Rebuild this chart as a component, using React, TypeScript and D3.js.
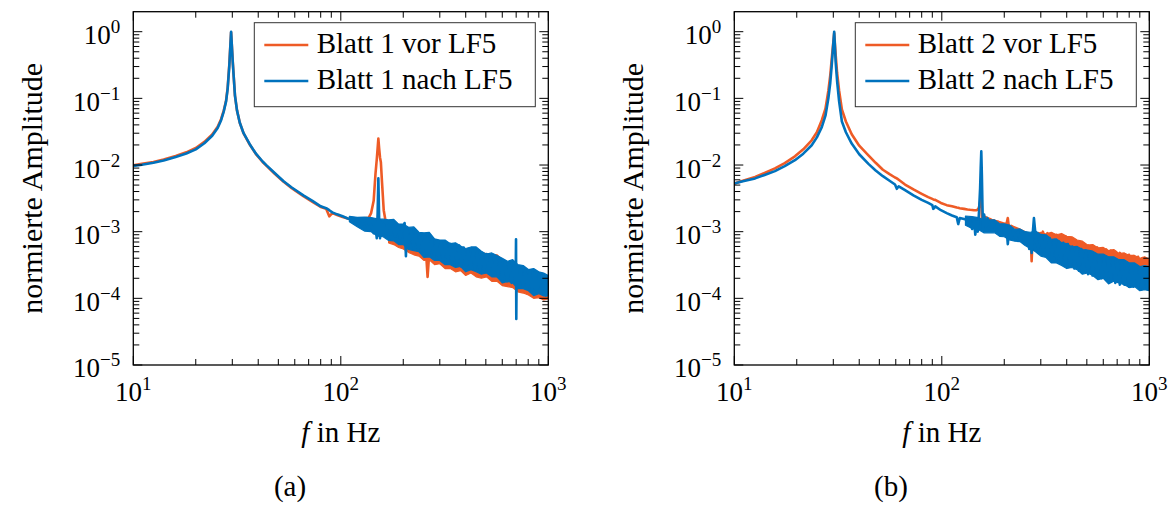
import React from 'react';
import * as d3 from 'd3';

// ---------- tick labels ----------
const X_TICK_EXP = ['1', '2', '3'];
const Y_TICK_EXP = ['0', '\u22121', '\u22122', '\u22123', '\u22124', '\u22125'];
const X_MAJOR = [10, 100, 1000];
const Y_MAJOR = [1, 0.1, 0.01, 0.001, 0.0001, 0.00001];

const LEGEND_A = ['Blatt 1 vor LF5', 'Blatt 1 nach LF5'];
const LEGEND_B = ['Blatt 2 vor LF5', 'Blatt 2 nach LF5'];
const SUB_LABELS = ['(a)', '(b)'];

// ---------- panel (a) : sampled spectra ----------
const FA = [
  10, 11, 12.5, 14, 16, 18, 20, 22, 24, 25.5,
  26.5, 27.3, 28, 28.5, 29, 29.6, 30.2, 30.9, 31.6, 32.6,
  34, 36.4, 39, 42, 44, 48, 53, 58, 66, 73,
  80, 85, 88, 91, 96, 102, 108, 115, 121, 127,
  132, 136, 140, 144, 147, 149, 150.5, 151.7, 153, 154.5,
  156, 158, 161, 164, 167, 170, 174, 179, 183, 188,
  193, 198, 203, 206, 208, 213, 219, 224, 230, 236,
  242, 248, 254, 258, 262, 266, 274, 281, 289, 296,
  304, 311, 319, 328, 336, 345, 354, 363, 372, 381,
  391, 401, 411, 422, 433, 444, 455, 467, 479, 491,
  504, 517, 530, 543, 557, 572, 586, 601, 617, 633,
  649, 665, 682, 696, 699, 701, 704, 718, 736, 755,
  775, 794, 815, 836, 857, 879, 902, 925, 949, 973,
  1000,
];
const A_VOR = [
  0.0099, 0.0104, 0.0111, 0.0121, 0.0137, 0.0155, 0.018, 0.0222, 0.0288, 0.0375,
  0.049, 0.066, 0.093, 0.145, 0.31, 0.98, 0.33, 0.11, 0.066, 0.043,
  0.0298, 0.0203, 0.0146, 0.0111, 0.0096, 0.0074, 0.0056, 0.0045, 0.0034, 0.0028,
  0.00235, 0.0022, 0.0017, 0.0019, 0.00178, 0.00166, 0.00158, 0.00148, 0.0015, 0.0015,
  0.0016, 0.0016, 0.0019, 0.0029, 0.0075, 0.012, 0.018, 0.025, 0.018, 0.013,
  0.011, 0.0055, 0.0021, 0.0015, 0.0011, 0.0012, 0.00085, 0.00115, 0.0008, 0.0011,
  0.00075, 0.00105, 0.0011, 0.0007, 0.001, 0.00062, 0.00095, 0.00055, 0.00085, 0.0005,
  0.0008, 0.00046, 0.00075, 0.00045, 0.00021, 0.00042, 0.0007, 0.00038, 0.00066, 0.00036,
  0.00064, 0.00033, 0.0006, 0.00031, 0.00058, 0.0003, 0.00056, 0.00028, 0.00055, 0.00027,
  0.00052, 0.00026, 0.0005, 0.00025, 0.00048, 0.00024, 0.00046, 0.00023, 0.00045, 0.00022,
  0.00043, 0.00021, 0.00042, 0.0002, 0.0004, 0.00019, 0.00038, 0.00018, 0.00036, 0.00017,
  0.00034, 0.00016, 0.00032, 0.00016, 0.0003, 0.00016, 0.00029, 0.00015, 0.00028, 0.00014,
  0.00027, 0.00013, 0.00026, 0.000125, 0.00025, 0.00012, 0.00024, 0.000115, 0.00023, 0.00011,
  0.00018,
];
const A_NACH = [
  0.0097, 0.0101, 0.0108, 0.0117, 0.0132, 0.0149, 0.0172, 0.0212, 0.0275, 0.036,
  0.047, 0.064, 0.09, 0.14, 0.3, 1.0, 0.32, 0.11, 0.066, 0.043,
  0.03, 0.0205, 0.0148, 0.0113, 0.0098, 0.0076, 0.0057, 0.0046, 0.0035, 0.0029,
  0.0024, 0.00225, 0.0021, 0.00195, 0.00182, 0.0017, 0.00158, 0.0015, 0.00142, 0.0013,
  0.00135, 0.0011, 0.00128, 0.00095, 0.00125, 0.0008, 0.0019, 0.0063, 0.0016, 0.0008,
  0.0014, 0.0009, 0.0013, 0.00095, 0.0012, 0.00125, 0.0009, 0.00122, 0.00085, 0.00118,
  0.0008, 0.0011, 0.00135, 0.00043, 0.0011, 0.00068, 0.00102, 0.0006, 0.00092, 0.00056,
  0.00088, 0.0005, 0.00085, 0.00048, 0.00082, 0.00046, 0.00078, 0.00042, 0.00074, 0.0004,
  0.00072, 0.00037, 0.0007, 0.00035, 0.00066, 0.00034, 0.00063, 0.00032, 0.00062, 0.0003,
  0.00058, 0.00029, 0.00055, 0.00028, 0.00052, 0.00027, 0.0005, 0.00026, 0.00048, 0.00025,
  0.00046, 0.00024, 0.00044, 0.00022, 0.00041, 0.00021, 0.00039, 0.0002, 0.00036, 0.00018,
  0.00034, 0.00017, 0.00031, 0.00017, 0.00077, 0.000049, 0.00028, 0.00016, 0.00029, 0.00015,
  0.00027, 0.00014, 0.00026, 0.00013, 0.00024, 0.00012, 0.00023, 0.00012, 0.00022, 0.00011,
  0.00017,
];
// dense noise band envelopes (panel a)
const A_VOR_BAND_F = [170, 180, 190, 200, 212, 225, 238, 252, 267, 283, 300, 318, 337, 357, 378, 400, 424, 449, 476, 504, 534, 566, 600, 636, 674, 714, 757, 802, 850, 900, 950, 1000];
const A_VOR_BAND_HI = [0.0014, 0.00145, 0.00122, 0.00122, 0.0011, 0.0011, 0.00092, 0.0009, 0.00092, 0.00074, 0.0007, 0.0007, 0.00062, 0.00064, 0.00058, 0.00053, 0.00056, 0.00056, 0.00048, 0.00047, 0.00045, 0.00045, 0.00038, 0.00034, 0.00036, 0.0003, 0.0003, 0.00026, 0.00027, 0.00024, 0.00023, 0.00021];
const A_VOR_BAND_LO = [0.00068, 0.00064, 0.00058, 0.00055, 0.00049, 0.00045, 0.00043, 0.00037, 0.00038, 0.00032, 0.00033, 0.00028, 0.00028, 0.00025, 0.00026, 0.00022, 0.00024, 0.00021, 0.0002, 0.00021, 0.00018, 0.00018, 0.000155, 0.00015, 0.000145, 0.000125, 0.00012, 0.000112, 0.0001, 0.000102, 0.000095, 0.000098];
const A_NACH_BAND_F = [110, 120, 130, 140, 150, 160, 170, 180, 190, 200, 212, 225, 238, 252, 267, 283, 300, 318, 337, 357, 378, 400, 424, 449, 476, 504, 534, 566, 600, 636, 674, 714, 757, 802, 850, 900, 950, 1000];
const A_NACH_BAND_HI = [0.0017, 0.00164, 0.00165, 0.00163, 0.00156, 0.00154, 0.00151, 0.00153, 0.0013, 0.0013, 0.00116, 0.00118, 0.00098, 0.00096, 0.00098, 0.00078, 0.00075, 0.00075, 0.00066, 0.00068, 0.00061, 0.00056, 0.00059, 0.00059, 0.00051, 0.00046, 0.00048, 0.00044, 0.0004, 0.00036, 0.00038, 0.00032, 0.00031, 0.00027, 0.00028, 0.00025, 0.00024, 0.00022];
const A_NACH_BAND_LO = [0.00141, 0.00119, 0.00102, 0.001, 0.00086, 0.00084, 0.00074, 0.00073, 0.00064, 0.00064, 0.00054, 0.00052, 0.0005, 0.00041, 0.00042, 0.00037, 0.00037, 0.00032, 0.00032, 0.00029, 0.0003, 0.00025, 0.00027, 0.00025, 0.00023, 0.00024, 0.00021, 0.00021, 0.00017, 0.00018, 0.00017, 0.00014, 0.00014, 0.00013, 0.00011, 0.000117, 0.000109, 0.000109];

// ---------- panel (b) : sampled spectra ----------
const FB = [
  10, 11, 12.6, 14, 15.7, 17.5, 19.6, 21.5, 23.6, 25,
  26.4, 27.5, 28.4, 29, 29.5, 30.3, 30.8, 31.3, 32, 33,
  34.5, 36.8, 40, 44.3, 48, 52, 56, 59.5, 60.7, 62,
  66.5, 73, 80, 86, 90, 91, 93, 99, 105.6, 112,
  118, 120, 122, 128, 133, 137, 140, 143, 145, 147,
  149, 151, 153, 154, 155, 156, 157, 158, 160, 163,
  166, 170, 174, 177, 181, 186, 190, 195, 200, 205,
  208, 211, 216, 221, 227, 233, 239, 245, 251, 258,
  264, 268, 271, 274, 278, 285, 292, 300, 307, 315,
  323, 331, 340, 348, 357, 366, 375, 385, 395, 405,
  415, 425, 436, 447, 458, 470, 482, 494, 507, 520,
  533, 547, 561, 575, 590, 605, 620, 636, 652, 669,
  686, 703, 721, 740, 759, 778, 798, 818, 839, 861,
  883, 905, 928, 952, 976, 1000,
];
const B_VOR = [
  0.0053, 0.0058, 0.0066, 0.0076, 0.0089, 0.0107, 0.0135, 0.0172, 0.0235, 0.031,
  0.047, 0.07, 0.13, 0.22, 0.4, 0.95, 0.45, 0.24, 0.13, 0.068,
  0.045, 0.029, 0.0195, 0.014, 0.0108, 0.0085, 0.0073, 0.0065, 0.0063, 0.006,
  0.0051, 0.0043, 0.0037, 0.0033, 0.0031, 0.00305, 0.003, 0.0027, 0.0025, 0.0024,
  0.0023, 0.00228, 0.00225, 0.0022, 0.00215, 0.00213, 0.00212, 0.0021, 0.0021, 0.0021,
  0.00215, 0.0023, 0.0028, 0.0035, 0.0028, 0.0016, 0.0012, 0.0014, 0.0016, 0.00165,
  0.0016, 0.00155, 0.0015, 0.00148, 0.00145, 0.00142, 0.00138, 0.00135, 0.00132, 0.0013,
  0.0016, 0.0011, 0.00122, 0.00118, 0.00114, 0.0011, 0.00106, 0.00102, 0.00098, 0.00094,
  0.00092, 0.0009, 0.00036, 0.00086, 0.00085, 0.00083, 0.00095, 0.00075, 0.001, 0.00072,
  0.00095, 0.0007, 0.00092, 0.00068, 0.0009, 0.00066, 0.00088, 0.00064, 0.00085, 0.00062,
  0.0008, 0.0006, 0.00075, 0.00056, 0.0007, 0.00052, 0.00066, 0.0005, 0.00062, 0.00047,
  0.0006, 0.00045, 0.00058, 0.00043, 0.00056, 0.00042, 0.00054, 0.0004, 0.00052, 0.00038,
  0.0005, 0.00037, 0.00048, 0.00036, 0.00046, 0.00035, 0.00045, 0.00034, 0.00043, 0.00033,
  0.00042, 0.00032, 0.0004, 0.00031, 0.00039, 0.00032,
];
const B_NACH = [
  0.0053, 0.0057, 0.0063, 0.0071, 0.0081, 0.0096, 0.0118, 0.0148, 0.0198, 0.026,
  0.037, 0.055, 0.1, 0.17, 0.32, 1.0, 0.35, 0.18, 0.09, 0.045,
  0.031, 0.021, 0.0145, 0.0104, 0.0083, 0.0068, 0.0058, 0.0051, 0.0044, 0.0048,
  0.0042, 0.0035, 0.003, 0.0027, 0.0025, 0.0022, 0.0024, 0.0021, 0.0019, 0.00175,
  0.00165, 0.0013, 0.0016, 0.00155, 0.0015, 0.00145, 0.0011, 0.0015, 0.0009, 0.0014,
  0.001, 0.0019, 0.0045, 0.009, 0.016, 0.007, 0.0025, 0.0011, 0.0018, 0.0012,
  0.0016, 0.0013, 0.0011, 0.00135, 0.0011, 0.0013, 0.00105, 0.00125, 0.00095, 0.0012,
  0.00065, 0.00105, 0.0008, 0.00105, 0.00078, 0.001, 0.00075, 0.00098, 0.0007, 0.00095,
  0.00055, 0.0009, 0.00048, 0.0009, 0.0016, 0.0007, 0.00055, 0.00088, 0.0005, 0.00085,
  0.00046, 0.0008, 0.00043, 0.00075, 0.0004, 0.00072, 0.00036, 0.00068, 0.00033, 0.00065,
  0.0003, 0.0006, 0.00028, 0.00058, 0.00026, 0.00055, 0.00025, 0.00052, 0.00023, 0.0005,
  0.00022, 0.00046, 0.00021, 0.00044, 0.0002, 0.00042, 0.00019, 0.0004, 0.00018, 0.00038,
  0.00017, 0.00036, 0.00016, 0.00034, 0.00016, 0.00032, 0.00015, 0.00031, 0.00015, 0.0003,
  0.00015, 0.00029, 0.00014, 0.00028, 0.00014, 0.00022,
];
// dense noise band envelopes (panel b)
const B_VOR_BAND_F = [283, 300, 318, 337, 357, 378, 400, 424, 449, 476, 504, 534, 566, 600, 636, 674, 714, 757, 802, 850, 900, 950, 1000];
const B_VOR_BAND_HI = [0.00092, 0.00098, 0.00092, 0.00098, 0.0009, 0.00094, 0.00085, 0.00084, 0.00075, 0.00072, 0.00063, 0.00064, 0.00057, 0.00058, 0.00052, 0.00054, 0.00047, 0.00048, 0.00044, 0.00044, 0.0004, 0.00042, 0.00038];
const B_VOR_BAND_LO = [0.0008, 0.00072, 0.00072, 0.00068, 0.00066, 0.00064, 0.00064, 0.00058, 0.00055, 0.0005, 0.00047, 0.00044, 0.00042, 0.0004, 0.00039, 0.00037, 0.00035, 0.00034, 0.00033, 0.00031, 0.0003, 0.00029, 0.00028];
const B_NACH_BAND_F = [130, 140, 150, 160, 170, 180, 190, 200, 212, 225, 238, 252, 267, 283, 300, 318, 337, 357, 378, 400, 424, 449, 476, 504, 534, 566, 600, 636, 674, 714, 757, 802, 850, 900, 950, 1000];
const B_NACH_BAND_HI = [0.00172, 0.00168, 0.00163, 0.0015, 0.0015, 0.0015, 0.00132, 0.00131, 0.00126, 0.00108, 0.0011, 0.001, 0.00098, 0.00102, 0.00091, 0.0009, 0.00077, 0.00078, 0.00068, 0.00066, 0.00059, 0.0006, 0.00054, 0.00053, 0.00051, 0.00046, 0.00046, 0.00042, 0.00042, 0.00038, 0.00038, 0.00034, 0.00034, 0.0003, 0.00031, 0.0003];
const B_NACH_BAND_LO = [0.00125, 0.00112, 0.00108, 0.00096, 0.00096, 0.00096, 0.00085, 0.00084, 0.00075, 0.00072, 0.00071, 0.00062, 0.00056, 0.0005, 0.00043, 0.00041, 0.00034, 0.00034, 0.00031, 0.00028, 0.00029, 0.00027, 0.00023, 0.00024, 0.00022, 0.00019, 0.0002, 0.000165, 0.00018, 0.00017, 0.00016, 0.000145, 0.00015, 0.00013, 0.000135, 0.00013];

// ---------- styling ----------
const FONT = 'Liberation Serif, DejaVu Serif, serif';
const ORANGE = '#EE5B26';
const BLUE = '#0072BD';
const PLOT_LEFT = 133.3;
const PLOT_TOP = 11.7;
const W = 415;
const H = 353.3;
const PANEL_DX = [0, 601];

type Band = { f: number[]; lo: number[]; hi: number[] };
type PanelProps = {
  dx: number;
  freqs: number[];
  vor: number[];
  nach: number[];
  vorBand: Band;
  nachBand: Band;
  legend: string[];
  sub: string;
  id: string;
};

function Panel({ dx, freqs, vor, nach, vorBand, nachBand, legend, sub, id }: PanelProps) {
  const x = d3.scaleLog().domain([10, 1000]).range([0, W]);
  const y = d3.scaleLog().domain([1e-5, Math.pow(10, 0.3)]).range([H, 0]);
  const line = d3
    .line<number>()
    .x((_, i) => x(freqs[i]))
    .y((v) => y(v));
  const bandPath = (b: Band) =>
    d3
      .area<number>()
      .x((f) => x(f))
      .y0((_, i) => y(b.lo[i]))
      .y1((_, i) => y(b.hi[i]))(b.f) || '';

  const xTicks = x.ticks();
  const yTicks = y.ticks().filter((t) => t <= Math.pow(10, 0.3) - 1e-9);
  const isPow10 = (v: number) => Math.abs(Math.log10(v) - Math.round(Math.log10(v))) < 1e-6;
  const MAJ = 9;
  const MIN = 6;
  const tf = { fontFamily: FONT };

  const lx = 121;
  const ly = 11;

  return (
    <g transform={`translate(${PLOT_LEFT + dx},${PLOT_TOP})`}>
      <defs>
        <clipPath id={id}>
          <rect x={0} y={0} width={W} height={H} />
        </clipPath>
      </defs>
      <g clipPath={`url(#${id})`}>
        <path d={bandPath(vorBand)} fill={ORANGE} stroke={ORANGE} strokeWidth={1.2} strokeLinejoin="round" />
        <path d={line(vor) || ''} fill="none" stroke={ORANGE} strokeWidth={2.6} strokeLinejoin="round" />
        <path d={bandPath(nachBand)} fill={BLUE} stroke={BLUE} strokeWidth={1.2} strokeLinejoin="round" />
        <path d={line(nach) || ''} fill="none" stroke={BLUE} strokeWidth={2.6} strokeLinejoin="round" />
      </g>
      {xTicks.map((t, i) => {
        const len = isPow10(t) ? MAJ : MIN;
        const px = x(t);
        return (
          <g key={'xt' + i}>
            <line x1={px} x2={px} y1={H} y2={H - len} stroke="#000" strokeWidth={1} />
            <line x1={px} x2={px} y1={0} y2={len} stroke="#000" strokeWidth={1} />
          </g>
        );
      })}
      {yTicks.map((t, i) => {
        const len = isPow10(t) ? MAJ : MIN;
        const py = y(t);
        return (
          <g key={'yt' + i}>
            <line x1={0} x2={len} y1={py} y2={py} stroke="#000" strokeWidth={1} />
            <line x1={W} x2={W - len} y1={py} y2={py} stroke="#000" strokeWidth={1} />
          </g>
        );
      })}
      <rect x={0} y={0} width={W} height={H} fill="none" stroke="#000" strokeWidth={1.3} />
      {X_MAJOR.map((t, i) => (
        <text key={'xl' + i} x={x(t)} y={H + 36} textAnchor="middle" style={tf} fontSize={27}>
          10<tspan dy={-11} fontSize={19}>{X_TICK_EXP[i]}</tspan>
        </text>
      ))}
      {Y_MAJOR.map((t, i) => (
        <text key={'yl' + i} x={-13} y={y(t) + 12.5} textAnchor="end" style={tf} fontSize={27}>
          10<tspan dy={-11} fontSize={19}>{Y_TICK_EXP[i]}</tspan>
        </text>
      ))}
      <text x={W / 2} y={H + 77} textAnchor="middle" style={tf} fontSize={29}>
        <tspan fontStyle="italic">f</tspan> in Hz
      </text>
      <text
        transform={`translate(${42 - PLOT_LEFT},${H / 2}) rotate(-90)`}
        textAnchor="middle"
        style={tf}
        fontSize={30}
      >
        normierte Amplitude
      </text>
      <rect x={lx} y={ly} width={281} height={84} fill="#fff" stroke="#333" strokeWidth={1} />
      {[ORANGE, BLUE].map((c, i) => (
        <g key={'lg' + i}>
          <line x1={lx + 10} x2={lx + 54} y1={ly + 22.3 + i * 36} y2={ly + 22.3 + i * 36} stroke={c} strokeWidth={2.6} />
          <text x={lx + 62.4} y={ly + 30.6 + i * 36} style={tf} fontSize={29}>
            {legend[i]}
          </text>
        </g>
      ))}
      <text x={290 - PLOT_LEFT} y={H + 131} textAnchor="middle" style={tf} fontSize={29}>
        {sub}
      </text>
    </g>
  );
}

export default function App() {
  return (
    <div style={{ position: 'absolute', left: 0, top: 0 }}>
      <svg width={1175} height={527} style={{ display: 'block', background: '#fff' }}>
        <Panel
          dx={PANEL_DX[0]}
          freqs={FA}
          vor={A_VOR}
          nach={A_NACH}
          vorBand={{ f: A_VOR_BAND_F, lo: A_VOR_BAND_LO, hi: A_VOR_BAND_HI }}
          nachBand={{ f: A_NACH_BAND_F, lo: A_NACH_BAND_LO, hi: A_NACH_BAND_HI }}
          legend={LEGEND_A}
          sub={SUB_LABELS[0]}
          id="clipA"
        />
        <Panel
          dx={PANEL_DX[1]}
          freqs={FB}
          vor={B_VOR}
          nach={B_NACH}
          vorBand={{ f: B_VOR_BAND_F, lo: B_VOR_BAND_LO, hi: B_VOR_BAND_HI }}
          nachBand={{ f: B_NACH_BAND_F, lo: B_NACH_BAND_LO, hi: B_NACH_BAND_HI }}
          legend={LEGEND_B}
          sub={SUB_LABELS[1]}
          id="clipB"
        />
      </svg>
    </div>
  );
}
